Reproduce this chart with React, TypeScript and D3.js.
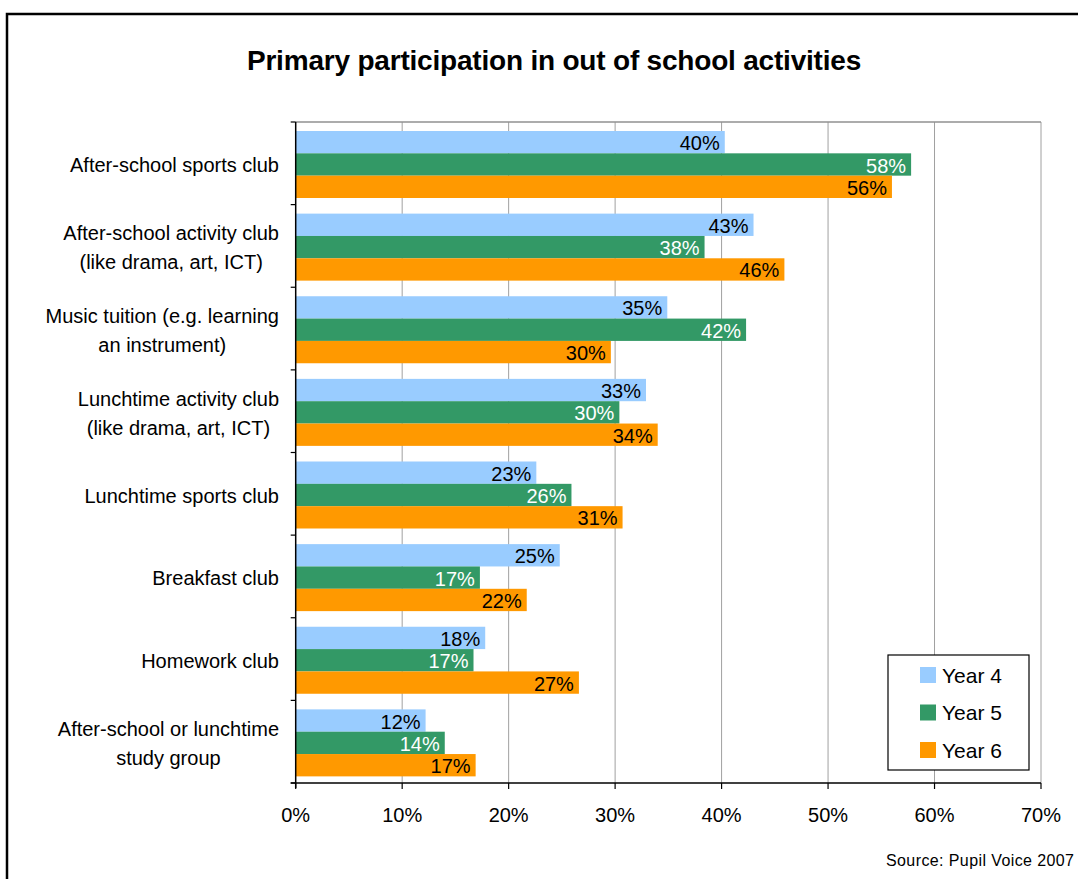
import React, { useEffect, useRef } from "react";
import * as d3 from "d3";

const categories: string[][] = [
  ["After-school sports club"],
  ["After-school activity club", "(like drama, art, ICT)"],
  ["Music tuition (e.g. learning", "an instrument)"],
  ["Lunchtime activity club", "(like drama, art, ICT)"],
  ["Lunchtime sports club"],
  ["Breakfast club"],
  ["Homework club"],
  ["After-school or lunchtime", "study group"],
];
const seriesNames = ["Year 4", "Year 5", "Year 6"];
const year4 = [40.3, 43.0, 34.9, 32.9, 22.6, 24.8, 17.8, 12.2];
const year5 = [57.8, 38.4, 42.3, 30.4, 25.9, 17.3, 16.7, 14.0];
const year6 = [56.0, 45.9, 29.6, 34.0, 30.7, 21.7, 26.6, 16.9];
const xTicks = [0, 10, 20, 30, 40, 50, 60, 70];
const colors = ["#99CCFF", "#339966", "#FF9900"];
const labelColors = ["#000000", "#FFFFFF", "#000000"];
const titleText = "Primary participation in out of school activities";
const sourceText = "Source: Pupil Voice 2007";

const FONT = "'Liberation Sans', Arial, sans-serif";

export default function App() {
  const ref = useRef<SVGSVGElement | null>(null);

  useEffect(() => {
    document.body.style.margin = "0";
    const svg = d3.select(ref.current);
    svg.selectAll("*").remove();

    const left = 295.7, right = 1041, top = 122, bottom = 783;
    const x = d3.scaleLinear().domain([0, 70]).range([left, right]);
    const keys = categories.map((c) => c.join(" "));
    const y = d3.scaleBand<string>().domain(keys).range([top, bottom]);
    const inner = d3.scaleBand<string>().domain(seriesNames).range([9, 76]);
    const values = [year4, year5, year6];

    // outer frame
    svg.append("rect").attr("x", 7).attr("y", 14).attr("width", 1200).attr("height", 1000)
      .attr("fill", "white").attr("stroke", "#000").attr("stroke-width", 2.5);

    // title
    svg.append("text").attr("x", 554).attr("y", 70).attr("text-anchor", "middle")
      .attr("font-family", FONT).attr("font-weight", "bold").attr("font-size", 28)
      .attr("letter-spacing", -0.2)
      .text(titleText);

    // gridlines
    svg.append("g").selectAll("line").data(xTicks.slice(1)).join("line")
      .attr("x1", (d) => x(d)).attr("x2", (d) => x(d))
      .attr("y1", top).attr("y2", bottom)
      .attr("stroke", "#a0a0a0").attr("stroke-width", 1);
    svg.append("line").attr("x1", left).attr("x2", right).attr("y1", top).attr("y2", top)
      .attr("stroke", "#909090").attr("stroke-width", 1.5);

    // bars
    const g = svg.append("g");
    categories.forEach((c, i) => {
      const key = keys[i];
      seriesNames.forEach((s, j) => {
        const v = values[j][i];
        const by = (y(key) as number) + (inner(s) as number);
        const bh = inner.bandwidth();
        g.append("rect").attr("x", x(0)).attr("y", by)
          .attr("width", x(v) - x(0)).attr("height", bh).attr("fill", colors[j]);
        g.append("text").attr("x", x(v) - 5).attr("y", by + bh / 2 + 1)
          .attr("dy", "0.35em").attr("text-anchor", "end")
          .attr("font-family", FONT).attr("font-size", 20).attr("fill", labelColors[j])
          .text(Math.round(v) + "%");
      });
    });

    // axes
    svg.append("line").attr("x1", left).attr("x2", left).attr("y1", top).attr("y2", bottom + 5)
      .attr("stroke", "#000").attr("stroke-width", 1.5);
    svg.append("line").attr("x1", left - 5).attr("x2", right).attr("y1", bottom).attr("y2", bottom)
      .attr("stroke", "#000").attr("stroke-width", 1.5);
    svg.append("g").selectAll("line").data(xTicks).join("line")
      .attr("x1", (d) => x(d)).attr("x2", (d) => x(d)).attr("y1", bottom).attr("y2", bottom + 6)
      .attr("stroke", "#000").attr("stroke-width", 1.2);
    svg.append("g").selectAll("line").data(d3.range(categories.length + 1)).join("line")
      .attr("x1", left - 5).attr("x2", left)
      .attr("y1", (d) => top + d * y.step()).attr("y2", (d) => top + d * y.step())
      .attr("stroke", "#000").attr("stroke-width", 1.2);
    svg.append("g").selectAll("text").data(xTicks).join("text")
      .attr("x", (d) => x(d)).attr("y", 822).attr("text-anchor", "middle")
      .attr("font-family", FONT).attr("font-size", 20).text((d) => d + "%");

    // category labels
    const labelRight = 279;
    categories.forEach((lines, i) => {
      const cy = (y(keys[i]) as number) + y.bandwidth() / 2;
      const lg = svg.append("g");
      const texts = lines.map((ln, k) =>
        lg.append("text").attr("font-family", FONT).attr("font-size", 20)
          .attr("text-anchor", "middle").attr("dy", "0.35em")
          .attr("y", cy + 2 + (k - (lines.length - 1) / 2) * 29)
          .text(ln)
      );
      const w = d3.max(texts, (t) => (t.node() as SVGTextElement).getComputedTextLength()) || 0;
      texts.forEach((t) => t.attr("x", labelRight - w / 2));
    });

    // legend
    const lgd = svg.append("g");
    lgd.append("rect").attr("x", 888).attr("y", 655).attr("width", 141).attr("height", 115)
      .attr("fill", "white").attr("stroke", "#000").attr("stroke-width", 1.2);
    seriesNames.forEach((s, j) => {
      const sy = 667 + j * 37.5;
      lgd.append("rect").attr("x", 920).attr("y", sy).attr("width", 16).attr("height", 16)
        .attr("fill", colors[j]);
      lgd.append("text").attr("x", 942).attr("y", sy + 15.5)
        .attr("font-family", FONT).attr("font-size", 21).text(s);
    });

    // source
    svg.append("text").attr("x", 886).attr("y", 866)
      .attr("font-family", FONT).attr("font-size", 16).attr("letter-spacing", 0.4)
      .text(sourceText);
  }, []);

  return <svg ref={ref} width={1078} height={879} style={{ display: "block" }} />;
}
